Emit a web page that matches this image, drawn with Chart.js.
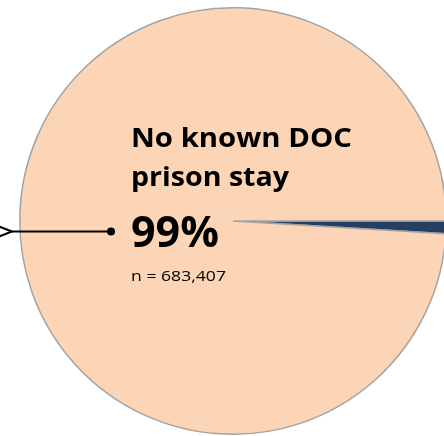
<!DOCTYPE html>
<html>
<head>
<meta charset="utf-8">
<script src="https://cdn.jsdelivr.net/npm/chart.js@4.4.0/dist/chart.umd.min.js"></script>
<style>
  html, body { margin: 0; padding: 0; background: #fff; overflow: hidden; }
  #wrap { position: absolute; left: 0; top: 0; width: 466px; height: 442px; }
</style>
</head>
<body>
<div id="wrap"><canvas id="myChart" width="466" height="442"></canvas></div>
<script>
// slices: DOC prison stay vs none (percent of people)
const categories = ["Known DOC prison stay", "No known DOC prison stay"];
const shares = [0.95, 99.05];
const sliceColors = ["#243F62", "#FBD5B5"];
const mainLabel = ["No known DOC", "prison stay"];
const mainPct = "99%";
const mainCount = "n = 683,407";

// squeeze/stretch a text line so it spans the given width
function fitText(ctx, txt, x, y, w) {
  const m = ctx.measureText(txt).width;
  ctx.save();
  ctx.translate(x, y);
  ctx.scale(w / m, 1);
  ctx.fillText(txt, 0, 0);
  ctx.restore();
}

// label drawn next to the big slice, placed off the pie centre
const labelPlugin = {
  id: "labelPlugin",
  afterDraw(chart) {
    const arc = chart.getDatasetMeta(0).data[1];
    const cx = arc.x, cy = arc.y;
    const ctx = chart.ctx;
    const left = cx - 102;
    ctx.save();
    ctx.fillStyle = "#000";
    ctx.textBaseline = "alphabetic";
    ctx.textAlign = "left";
    ctx.font = "bold 27px 'Open Sans'";
    fitText(ctx, mainLabel[0], left, cy - 74, 221);
    fitText(ctx, mainLabel[1], left, cy - 35, 158);
    ctx.font = "bold 43px 'Open Sans'";
    fitText(ctx, mainPct, left, cy + 26, 88);
    ctx.font = "15px 'Open Sans'";
    fitText(ctx, mainCount, left, cy + 60, 95);

    // leader line with dot and open arrow end
    const ly = cy + 10.5;
    ctx.strokeStyle = "#000";
    ctx.lineWidth = 2;
    ctx.beginPath();
    ctx.moveTo(12, ly);
    ctx.lineTo(cx - 122, ly);
    ctx.stroke();
    ctx.beginPath();
    ctx.moveTo(-1, ly - 5);
    ctx.lineTo(12, ly);
    ctx.lineTo(-1, ly + 5);
    ctx.stroke();
    ctx.beginPath();
    ctx.arc(cx - 122, ly, 4, 0, Math.PI * 2);
    ctx.fillStyle = "#000";
    ctx.fill();
    ctx.restore();
  }
};

new Chart(document.getElementById("myChart"), {
  type: "pie",
  data: {
    labels: categories,
    datasets: [{
      data: shares,
      backgroundColor: sliceColors,
      borderColor: "#A3A3A3",
      borderWidth: 1.5
    }]
  },
  options: {
    responsive: false,
    animation: false,
    rotation: 90,
    layout: { padding: 7 },
    plugins: {
      legend: { display: false },
      tooltip: { enabled: false }
    }
  },
  plugins: [labelPlugin]
});
</script>
</body>
</html>
